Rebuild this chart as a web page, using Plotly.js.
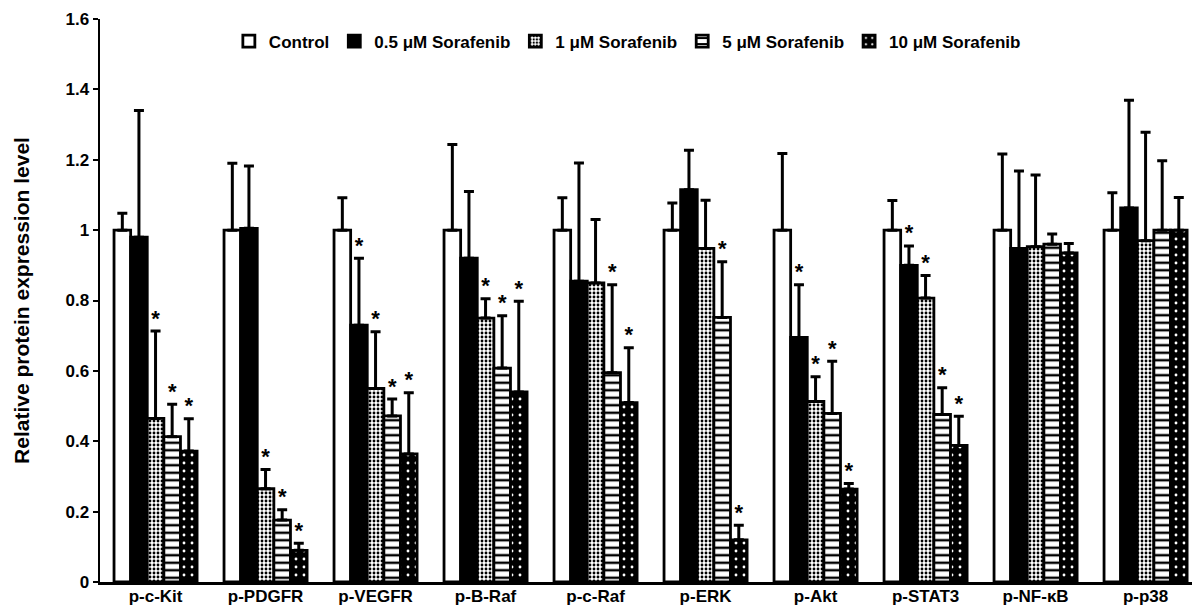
<!DOCTYPE html>
<html>
<head>
<meta charset="utf-8">
<script src="https://cdn.plot.ly/plotly-3.0.1.min.js"></script>
<style>
  html, body { margin: 0; padding: 0; background: #ffffff; }
  #chart { width: 1192px; height: 610px; }
</style>
</head>
<body>
<div id="chart"></div>
<script>
// ---- data ----
const categories = ["p-c-Kit", "p-PDGFR", "p-VEGFR", "p-B-Raf", "p-c-Raf", "p-ERK", "p-Akt", "p-STAT3", "p-NF-κB", "p-p38"];
const seriesNames = ["Control", "0.5 μM Sorafenib", "1 μM Sorafenib", "5 μM Sorafenib", "10 μM Sorafenib"];

const control   = [1.00, 1.00, 1.00, 1.00, 1.00, 1.00, 1.00, 1.00, 1.00, 1.00];
const sor05     = [0.98, 1.005, 0.73, 0.92, 0.855, 1.115, 0.695, 0.90, 0.948, 1.063];
const sor1      = [0.465, 0.265, 0.55, 0.75, 0.85, 0.948, 0.513, 0.807, 0.953, 0.97];
const sor5      = [0.413, 0.176, 0.472, 0.608, 0.595, 0.752, 0.479, 0.476, 0.96, 1.0];
const sor10     = [0.372, 0.09, 0.364, 0.54, 0.51, 0.12, 0.264, 0.388, 0.935, 1.0];

const errControl = [0.048, 0.19, 0.092, 0.243, 0.092, 0.077, 0.218, 0.084, 0.216, 0.106];
const err05      = [0.36, 0.177, 0.19, 0.19, 0.336, 0.112, 0.15, 0.055, 0.22, 0.306];
const err1       = [0.248, 0.055, 0.161, 0.055, 0.18, 0.137, 0.07, 0.064, 0.204, 0.308];
const err5       = [0.092, 0.029, 0.048, 0.149, 0.25, 0.158, 0.148, 0.076, 0.029, 0.197];
const err10      = [0.092, 0.02, 0.174, 0.258, 0.156, 0.041, 0.016, 0.083, 0.027, 0.093];

// significance flags (asterisks)
const sigControl = [0, 0, 0, 0, 0, 0, 0, 0, 0, 0];
const sig05      = [0, 0, 1, 0, 0, 0, 1, 1, 0, 0];
const sig1       = [1, 1, 1, 1, 0, 0, 1, 1, 0, 0];
const sig5       = [1, 1, 1, 1, 1, 1, 1, 1, 0, 0];
const sig10      = [1, 1, 1, 1, 1, 1, 1, 1, 0, 0];

const yTickVals = [0, 0.2, 0.4, 0.6, 0.8, 1, 1.2, 1.4, 1.6];
const yTickText = ["0", "0.2", "0.4", "0.6", "0.8", "1", "1.2", "1.4", "1.6"];

// ---- build ----
const values = [control, sor05, sor1, sor5, sor10];
const errors = [errControl, err05, err1, err5, err10];
const sigs   = [sigControl, sig05, sig1, sig5, sig10];

const FONT = "Liberation Sans, Arial, sans-serif";
const BARGAP = 0.245;
const nSeries = seriesNames.length;
const barW = (1 - BARGAP) / nSeries;
const idx = categories.map((_, i) => i);

const markers = [
  { color: "#ffffff", line: { color: "#000000", width: 2.8 } },
  { color: "#000000", line: { color: "#000000", width: 2.8 } },
  { color: "#ffffff", line: { color: "#000000", width: 2.8 },
    pattern: { shape: ".", fgcolor: "#000000", bgcolor: "#ffffff", size: 4, solidity: 0.4, fillmode: "replace" } },
  { color: "#ffffff", line: { color: "#000000", width: 2.8 },
    pattern: { shape: "-", fgcolor: "#000000", bgcolor: "#ffffff", size: 7.5, solidity: 0.33, fillmode: "replace" } },
  { color: "#000000", line: { color: "#000000", width: 2.8 },
    pattern: { shape: ".", fgcolor: "#ffffff", bgcolor: "#000000", size: 8, solidity: 0.1, fillmode: "replace" } }
];

const traces = [];
for (let k = 0; k < nSeries; k++) {
  traces.push({
    type: "bar",
    name: seriesNames[k],
    x: idx,
    y: values[k],
    marker: markers[k],
    error_y: {
      type: "data",
      symmetric: false,
      array: errors[k],
      arrayminus: errors[k].map(() => 0),
      color: "#000000",
      thickness: 3,
      width: 5
    },
    hoverinfo: "y+name"
  });
}

// asterisks above the error bars
for (let k = 0; k < nSeries; k++) {
  const ax = [], ay = [];
  for (let i = 0; i < categories.length; i++) {
    if (sigs[k][i]) {
      ax.push(i + (k - (nSeries - 1) / 2) * barW);
      ay.push(values[k][i] + errors[k][i]);
    }
  }
  if (ax.length) {
    traces.push({
      type: "scatter",
      mode: "text",
      x: ax,
      y: ay,
      text: ax.map(() => "*"),
      textposition: "top center",
      textfont: { family: FONT, size: 22, color: "#000000", weight: "bold" },
      showlegend: false,
      hoverinfo: "skip",
      cliponaxis: false
    });
  }
}

const layout = {
  width: 1192,
  height: 610,
  margin: { l: 100, r: 0, t: 19, b: 28 },
  paper_bgcolor: "#ffffff",
  plot_bgcolor: "#ffffff",
  barmode: "group",
  bargap: BARGAP,
  bargroupgap: 0,
  font: { family: FONT, color: "#000000", size: 15 },
  showlegend: true,
  legend: {
    orientation: "h",
    x: 0.118,
    xanchor: "left",
    y: 0.96,
    yanchor: "middle",
    font: { family: FONT, size: 17, color: "#000000", weight: "bold" },
    bgcolor: "rgba(0,0,0,0)",
    itemwidth: 30,
    tracegroupgap: 0
  },
  xaxis: {
    range: [-0.505, 9.422],
    tickmode: "array",
    tickvals: idx,
    ticktext: categories,
    showline: true,
    linecolor: "#000000",
    linewidth: 2.5,
    ticks: "",
    ticklabelstandoff: -3,
    showgrid: false,
    zeroline: false,
    fixedrange: true,
    tickfont: { family: FONT, size: 17, color: "#000000", weight: "bold" }
  },
  yaxis: {
    range: [0, 1.6],
    tickmode: "array",
    tickvals: yTickVals,
    ticktext: yTickText,
    showline: true,
    linecolor: "#000000",
    linewidth: 2.5,
    ticks: "outside",
    ticklen: 5,
    tickwidth: 2,
    tickcolor: "#000000",
    showgrid: false,
    zeroline: false,
    fixedrange: true,
    tickfont: { family: FONT, size: 17, color: "#000000", weight: "bold" },
    title: {
      text: "Relative protein expression level",
      font: { family: FONT, size: 21, color: "#000000", weight: "bold" },
      standoff: 30
    }
  }
};

Plotly.newPlot("chart", traces, layout, { displayModeBar: false, staticPlot: true });
</script>
</body>
</html>
